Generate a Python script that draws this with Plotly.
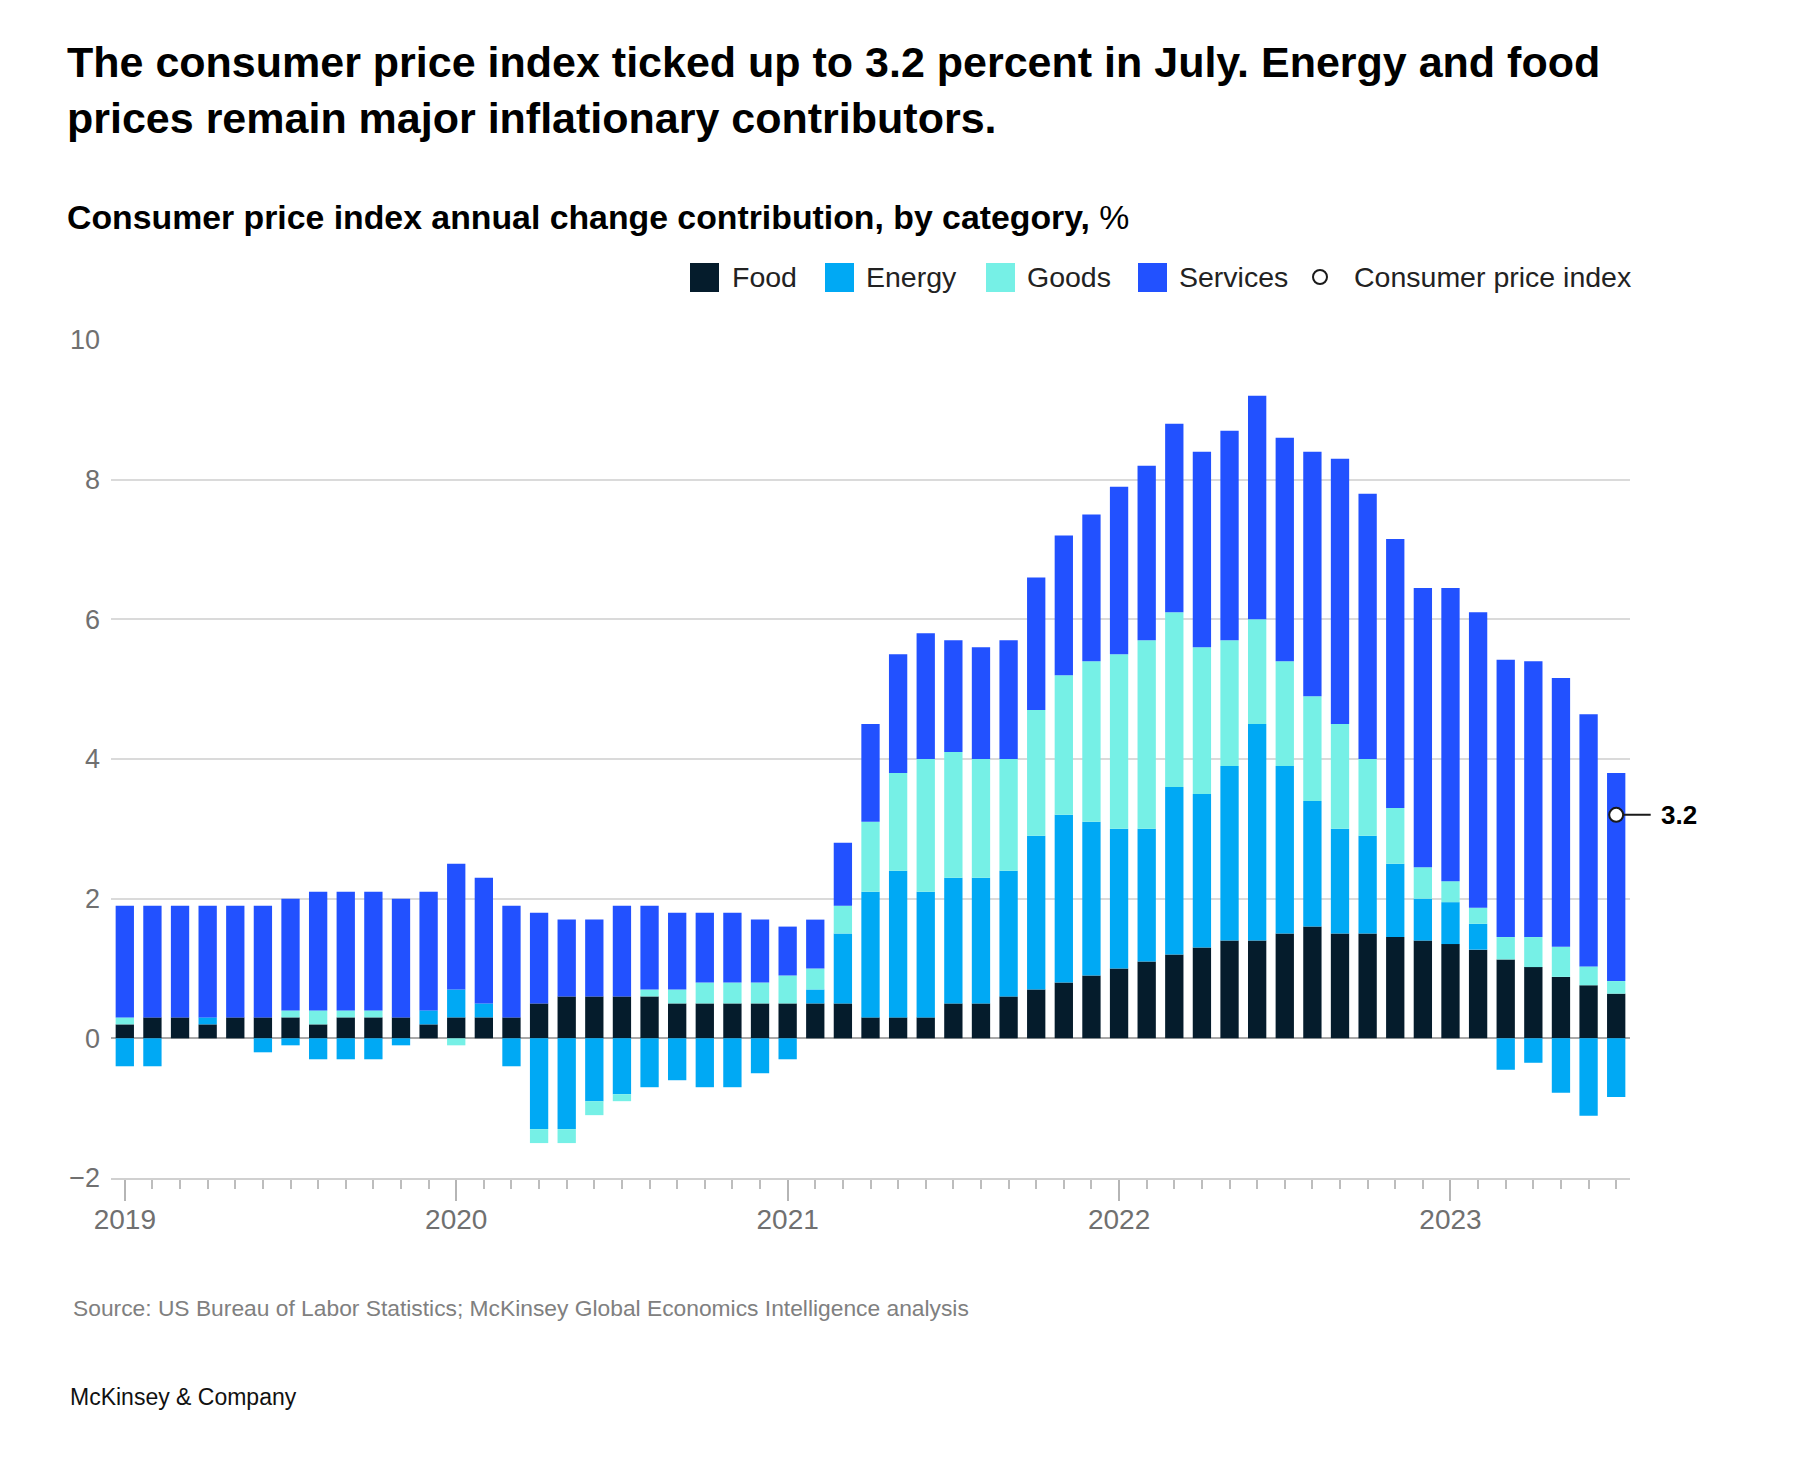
import plotly.graph_objects as go
import pandas as pd

# ---------------- data ----------------
months = pd.date_range("2019-01-01", "2023-07-01", freq="MS")
month_labels = [m.strftime("%b %Y") for m in months]

food = [0.2, 0.3, 0.3, 0.2, 0.3, 0.3, 0.3, 0.2, 0.3, 0.3, 0.3, 0.2,
        0.3, 0.3, 0.3, 0.5, 0.6, 0.6, 0.6, 0.6, 0.5, 0.5, 0.5, 0.5,
        0.5, 0.5, 0.5, 0.3, 0.3, 0.3, 0.5, 0.5, 0.6, 0.7, 0.8, 0.9,
        1.0, 1.1, 1.2, 1.3, 1.4, 1.4, 1.5, 1.6, 1.5, 1.5, 1.45, 1.4,
        1.35, 1.27, 1.13, 1.02, 0.88, 0.76, 0.64]
energy = [-0.4, -0.4, 0.0, 0.1, 0.0, -0.2, -0.1, -0.3, -0.3, -0.3, -0.1, 0.2,
          0.4, 0.2, -0.4, -1.3, -1.3, -0.9, -0.8, -0.7, -0.6, -0.7, -0.7, -0.5,
          -0.3, 0.2, 1.0, 1.8, 2.1, 1.8, 1.8, 1.8, 1.8, 2.2, 2.4, 2.2,
          2.0, 1.9, 2.4, 2.2, 2.5, 3.1, 2.4, 1.8, 1.5, 1.4, 1.05, 0.6,
          0.6, 0.37, -0.45, -0.35, -0.78, -1.11, -0.84]
goods = [0.1, 0.0, 0.0, 0.0, 0.0, 0.0, 0.1, 0.2, 0.1, 0.1, 0.0, 0.0,
         -0.1, 0.0, 0.0, -0.2, -0.2, -0.2, -0.1, 0.1, 0.2, 0.3, 0.3, 0.3,
         0.4, 0.3, 0.4, 1.0, 1.4, 1.9, 1.8, 1.7, 1.6, 1.8, 2.0, 2.3,
         2.5, 2.7, 2.5, 2.1, 1.8, 1.5, 1.5, 1.5, 1.5, 1.1, 0.8, 0.45,
         0.3, 0.23, 0.32, 0.43, 0.43, 0.27, 0.18]
services = [1.6, 1.6, 1.6, 1.6, 1.6, 1.6, 1.6, 1.7, 1.7, 1.7, 1.7, 1.7,
            1.8, 1.8, 1.6, 1.3, 1.1, 1.1, 1.3, 1.2, 1.1, 1.0, 1.0, 0.9,
            0.7, 0.7, 0.9, 1.4, 1.7, 1.8, 1.6, 1.6, 1.7, 1.9, 2.0, 2.1,
            2.4, 2.5, 2.7, 2.8, 3.0, 3.2, 3.2, 3.5, 3.8, 3.8, 3.85, 4.0,
            4.2, 4.23, 3.97, 3.95, 3.85, 3.61, 2.98]

cpi_month = "Jul 2023"
cpi_value = 3.2

year_labels = ["2019", "2020", "2021", "2022", "2023"]

# ---------------- styles ----------------
COLORS = {"Food": "#051C2C", "Energy": "#00A9F4", "Goods": "#76F0E6", "Services": "#2251FF"}
FONT = "Liberation Sans, Arial, Helvetica, sans-serif"
W, H = 1800, 1473
OFF = 8  # page body margin
PLOT_LEFT, PLOT_TOP, PW, PH = 111, 340, 1519, 838
L = PLOT_LEFT - OFF
T = PLOT_TOP - OFF
R = W - L - PW
B = H - T - PH
PLOT_BOTTOM = PLOT_TOP + PH

def px_x(px):
    return (px - PLOT_LEFT) / PW

def px_y(py):
    return (PLOT_BOTTOM - py) / PH

x = list(range(len(months)))
year_ticks = [month_labels.index("Jan " + y) for y in year_labels]

fig = go.Figure()
for name, vals in [("Food", food), ("Energy", energy), ("Goods", goods), ("Services", services)]:
    fig.add_trace(go.Bar(x=x, y=vals, name=name, marker=dict(color=COLORS[name], line=dict(width=0)),
                         customdata=month_labels, hovertemplate="%{customdata}: %{y}<extra>" + name + "</extra>",
                         showlegend=False))

cpi_x = month_labels.index(cpi_month)
fig.add_trace(go.Scatter(x=[cpi_x], y=[cpi_value], mode="markers", name="Consumer price index",
                         marker=dict(size=14, color="white", line=dict(color="#1a1a1a", width=2)),
                         showlegend=False, cliponaxis=False))

fig.add_annotation(x=cpi_x, y=cpi_value, xref="x", yref="y", text="<b>3.2</b>",
                   showarrow=True, arrowhead=0, arrowwidth=2, arrowcolor="#1a1a1a",
                   ax=63, ay=0, standoff=7, borderpad=10,
                   font=dict(family=FONT, size=26, color="#000000"))

# ---------------- custom legend ----------------
legend_items = [("Food", 690, 730), ("Energy", 825, 864), ("Goods", 986, 1025), ("Services", 1138, 1177)]
for name, icon_x, text_x in legend_items:
    fig.add_shape(type="rect", xref="paper", yref="paper",
                  x0=px_x(icon_x), x1=px_x(icon_x + 29), y0=px_y(292), y1=px_y(263),
                  fillcolor=COLORS[name], line=dict(width=0))
    fig.add_annotation(xref="paper", yref="paper", x=px_x(text_x), y=px_y(277), text=name,
                       showarrow=False, xanchor="left", yanchor="middle",
                       font=dict(family=FONT, size=28.5, color="#222222"))
fig.add_shape(type="circle", xref="paper", yref="paper",
              x0=px_x(1313), x1=px_x(1327), y0=px_y(284), y1=px_y(270),
              fillcolor="white", line=dict(color="#1a1a1a", width=2))
fig.add_annotation(xref="paper", yref="paper", x=px_x(1352), y=px_y(277), text="Consumer price index",
                   showarrow=False, xanchor="left", yanchor="middle",
                   font=dict(family=FONT, size=28.5, color="#222222"))

# ---------------- texts ----------------
fig.add_annotation(xref="paper", yref="paper", x=px_x(65), y=px_y(217),
                   text="<b>Consumer price index annual change contribution, by category,</b> %",
                   showarrow=False, xanchor="left", yanchor="middle",
                   font=dict(family=FONT, size=33.8, color="#000000"))
fig.add_annotation(xref="paper", yref="paper", x=px_x(71), y=px_y(1308),
                   text="Source: US Bureau of Labor Statistics; McKinsey Global Economics Intelligence analysis",
                   showarrow=False, xanchor="left", yanchor="middle",
                   font=dict(family=FONT, size=22.8, color="#808080"))
fig.add_annotation(xref="paper", yref="paper", x=px_x(68), y=px_y(1397),
                   text="McKinsey & Company",
                   showarrow=False, xanchor="left", yanchor="middle",
                   font=dict(family=FONT, size=23, color="#111111"))

fig.update_layout(
    width=W, height=H,
    margin=dict(l=L, r=R, t=T, b=B, pad=0),
    paper_bgcolor="white", plot_bgcolor="white",
    barmode="relative", bargap=0.337,
    showlegend=False,
    font=dict(family=FONT, color="#333333"),
    title=dict(text="<b>The consumer price index ticked up to 3.2 percent in July. Energy and food<br>prices remain major inflationary contributors.</b>",
               xref="container", yref="container", x=(67 - OFF) / W, xanchor="left",
               y=1 - 69 / H, yanchor="middle",
               font=dict(family=FONT, size=43, color="#000000")),
    xaxis=dict(range=[-0.5, len(months) - 0.5], tickmode="array", tickvals=year_ticks, ticktext=year_labels,
               ticks="outside", ticklen=21, tickwidth=1.5, tickcolor="#b5b5b5",
               ticklabelstandoff=-5,
               tickfont=dict(family=FONT, size=28, color="#707070"),
               showgrid=False, zeroline=False, showline=True, linecolor="#d0d0d0", linewidth=1.5,
               minor=dict(tickmode="linear", tick0=0, dtick=1, ticks="outside", ticklen=9,
                          tickwidth=1.5, tickcolor="#bdbdbd", showgrid=False)),
    yaxis=dict(range=[-2, 10], tickvals=[-2, 0, 2, 4, 6, 8, 10],
               showgrid=True, gridcolor="#dadada", gridwidth=1.5,
               zeroline=True, zerolinecolor="#a8a8a8", zerolinewidth=1.5,
               showline=False, ticks="", ticklabelstandoff=10,
               tickfont=dict(family=FONT, size=27, color="#707070")),
)

fig.write_html("out.html")
